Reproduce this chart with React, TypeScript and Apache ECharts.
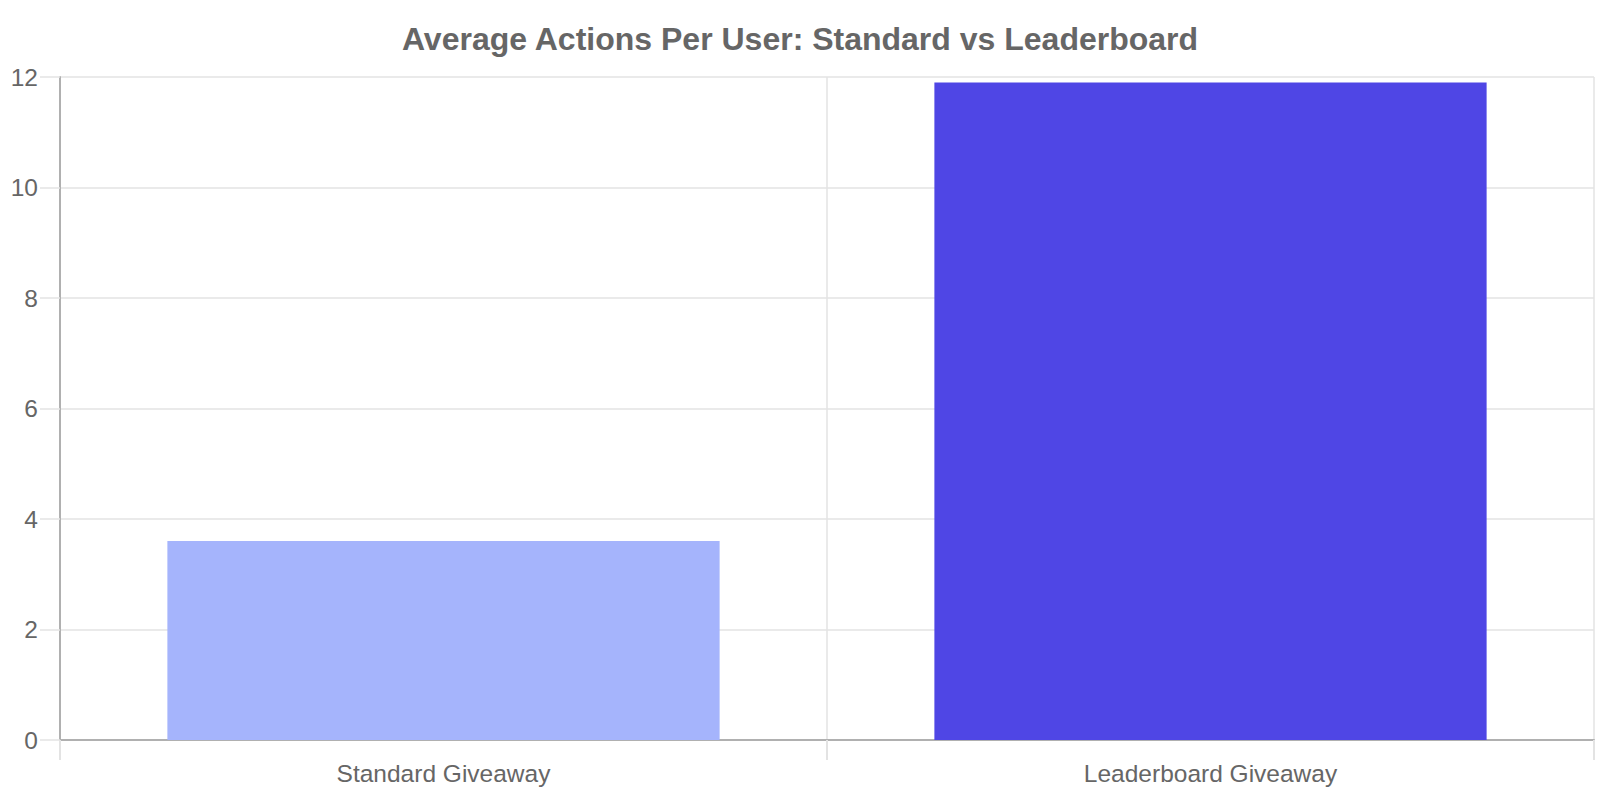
import React, { useEffect, useRef } from "react";
import * as echarts from "echarts";

const categories = ["Standard Giveaway", "Leaderboard Giveaway"];
const values = [3.6, 11.9];
const barColors = ["#a5b4fc", "#4f46e5"];
const titleText = "Average Actions Per User: Standard vs Leaderboard";

export default function App() {
  const ref = useRef<HTMLDivElement>(null);
  useEffect(() => {
    if (!ref.current) return;
    const chart = echarts.init(ref.current, null, { renderer: "svg" });
    const font = "'Liberation Sans', Arial, sans-serif";
    chart.setOption({
      animation: false,
      title: {
        text: titleText,
        left: "center",
        top: 18,
        textStyle: { fontFamily: font, fontSize: 32, fontWeight: "bold", color: "#666666" },
      },
      grid: { left: 60, right: 6, top: 77, bottom: 60, containLabel: false },
      xAxis: {
        type: "category",
        data: categories,
        boundaryGap: true,
        axisLine: { show: true, lineStyle: { color: "#b0b0b0", width: 2 } },
        axisTick: { show: true, length: 20, alignWithLabel: false, lineStyle: { color: "#e3e3e3", width: 2 } },
        splitLine: { show: true, lineStyle: { color: "#e3e3e3", width: 1.5 } },
        axisLabel: { color: "#666666", fontSize: 24.5, fontFamily: font, margin: 21 },
      },
      yAxis: {
        type: "value",
        min: 0,
        max: 12,
        interval: 2,
        axisLine: { show: true, lineStyle: { color: "#b0b0b0", width: 2 } },
        axisTick: { show: true, length: 20, lineStyle: { color: "#e3e3e3", width: 1.5 } },
        splitLine: { show: true, lineStyle: { color: "#e3e3e3", width: 1.5 } },
        axisLabel: { color: "#666666", fontSize: 24.5, fontFamily: font, margin: 22 },
      },
      series: [
        {
          type: "bar",
          barWidth: "72%",
          data: values.map((v, i) => ({ value: v, itemStyle: { color: barColors[i] } })),
        },
      ],
    });
    return () => chart.dispose();
  }, []);
  return (
    <div
      ref={ref}
      style={{ position: "absolute", left: 0, top: 0, width: 1600, height: 800, background: "#ffffff" }}
    />
  );
}
